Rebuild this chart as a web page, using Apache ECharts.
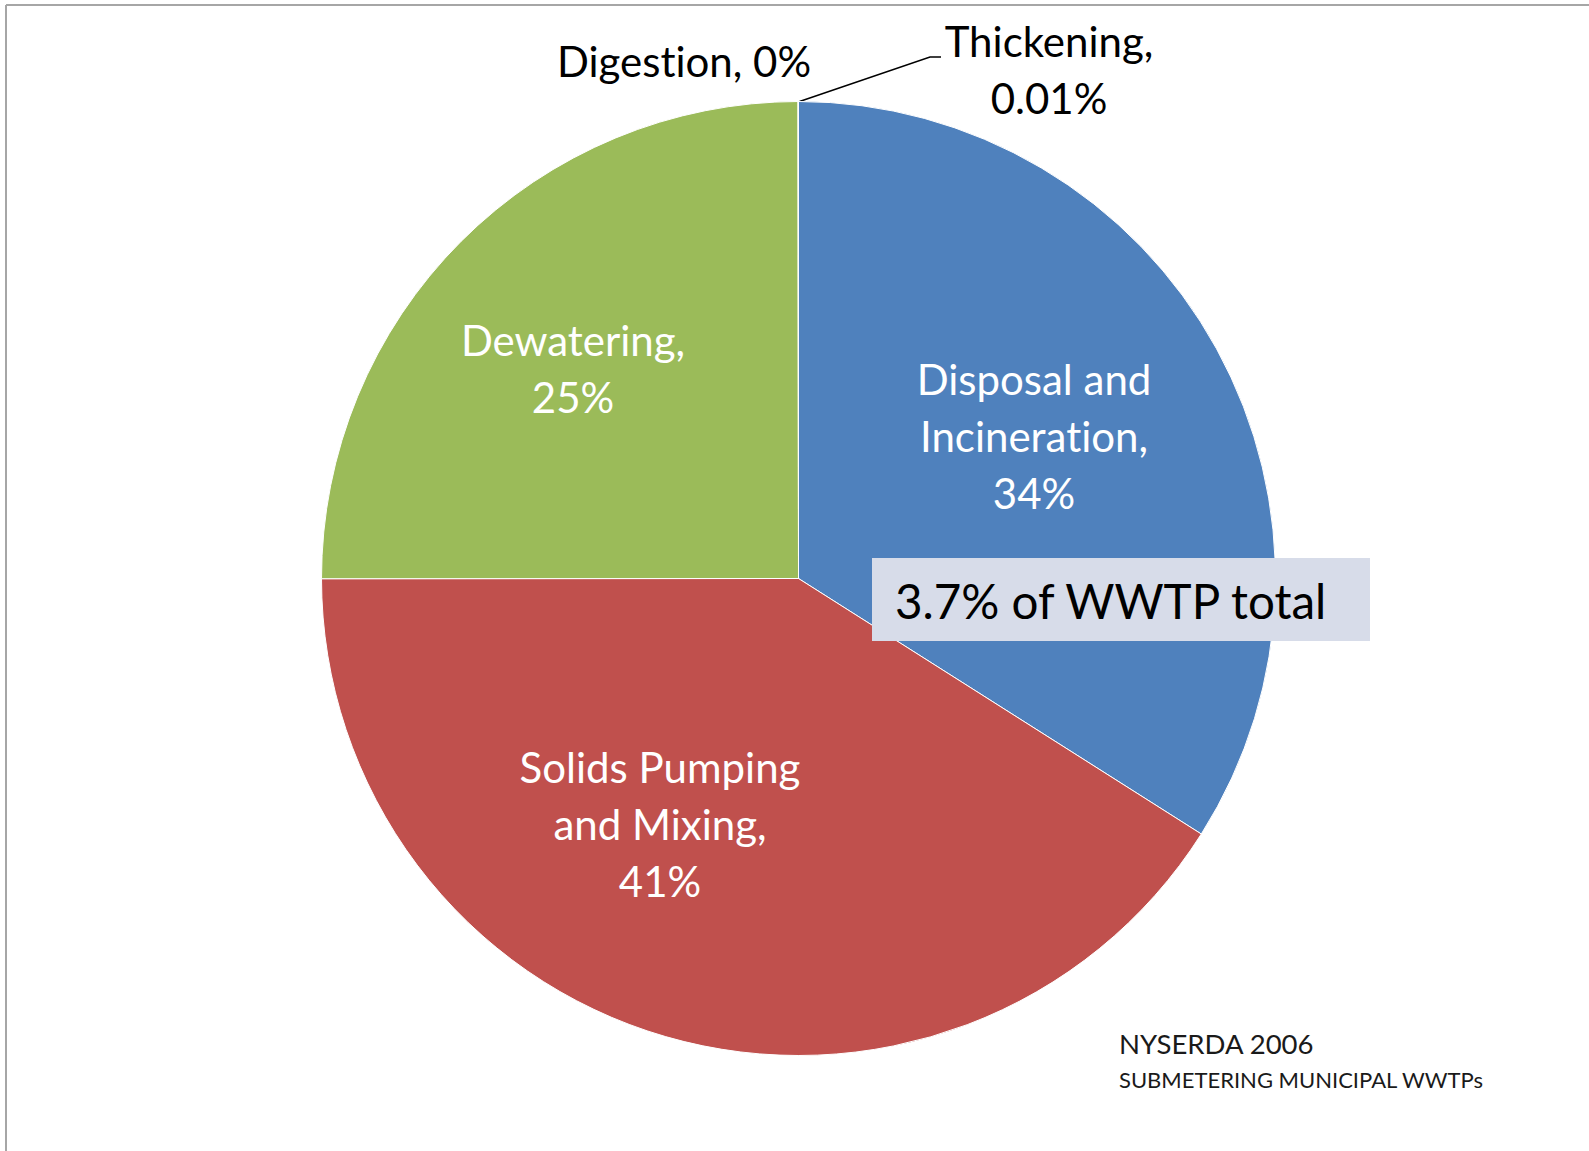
<!DOCTYPE html>
<html>
<head>
<meta charset="utf-8">
<title>Solids handling energy use</title>
<script src="https://cdn.jsdelivr.net/npm/echarts@6/dist/echarts.min.js"></script>
<style>
  html, body { margin: 0; padding: 0; background: #fff; }
  #chart { width: 1589px; height: 1151px; }
  #chart text { font-variant-ligatures: none; font-feature-settings: "liga" 0, "clig" 0; }
</style>
</head>
<body>
<div id="chart"></div>
<script>
// Share of solids-handling electricity by process (percent)
const categories = ['Disposal and Incineration', 'Solids Pumping and Mixing', 'Dewatering', 'Digestion', 'Thickening'];
const shares = [34, 41, 25, 0, 0.01];
const labelText = ['Disposal and\nIncineration,\n34%', 'Solids Pumping\nand Mixing,\n41%', 'Dewatering,\n25%', 'Digestion, 0%', 'Thickening,\n0.01%'];
const sliceColors = ['#4f81bd', '#c0504d', '#9bbb59', '#8064a2', '#4bacc6'];

const FONT = 'Lato, "Open Sans", sans-serif';
const CX = 798.5, CY = 578.5, R = 477;

// label anchors (label centre), in page pixels
const labelAnchor = [
  [1034, 436],
  [660, 824],
  [573, 368],
  [684, 61],
  [1049, 69]
];

const chart = echarts.init(document.getElementById('chart'), null, { renderer: 'svg' });

const data = categories.map((name, i) => {
  const inside = i < 3;
  return {
    name,
    value: shares[i],
    itemStyle: { color: sliceColors[i] },
    label: {
      position: inside ? 'inside' : 'outside',
      color: inside ? '#ffffff' : '#000000'
    },
    labelLine: { show: i === 4 }
  };
});

chart.setOption({
  backgroundColor: '#ffffff',
  animation: false,
  series: [{
    type: 'pie',
    center: [CX, CY],
    radius: [0, R],
    startAngle: 90,
    clockwise: true,
    minAngle: 0,
    avoidLabelOverlap: false,
    itemStyle: { borderColor: '#ffffff', borderWidth: 1 },
    label: {
      show: true,
      fontFamily: FONT,
      fontSize: 42,
      lineHeight: 57,
      align: 'center',
      formatter: p => labelText[p.dataIndex]
    },
    labelLine: {
      show: false,
      lineStyle: { color: '#000000', width: 1.5 }
    },
    labelLayout: p => {
      const [x, y] = labelAnchor[p.dataIndex];
      const out = { x, y, align: 'center', verticalAlign: 'middle' };
      if (p.dataIndex === 4) {
        out.labelLinePoints = [[CX + 1, CY - R], [930, 57], [941, 57]];
      }
      return out;
    },
    emphasis: { disabled: true },
    data
  }],
  graphic: [
    // frame lines along the top and left edge
    { type: 'line', shape: { x1: 6, y1: 5, x2: 1589, y2: 5 }, style: { stroke: '#a6a6a6', lineWidth: 2 }, silent: true },
    { type: 'line', shape: { x1: 6, y1: 5, x2: 6, y2: 1151 }, style: { stroke: '#a6a6a6', lineWidth: 2 }, silent: true },
    // callout box
    { type: 'rect', shape: { x: 872, y: 558, width: 498, height: 83 }, style: { fill: '#d7dce9' }, z: 10 },
    { type: 'text', x: 895, y: 600, z: 11,
      style: { text: '3.7% of WWTP total', font: '47.5px ' + FONT, fill: '#000000', textVerticalAlign: 'middle' } },
    // source note
    { type: 'text', x: 1119, y: 1043, z: 11,
      style: { text: 'NYSERDA 2006', font: '27.5px ' + FONT, fill: '#1a1a1a', textVerticalAlign: 'middle' } },
    { type: 'text', x: 1119, y: 1079, z: 11,
      style: { text: 'SUBMETERING MUNICIPAL WWTPs', font: '22px ' + FONT, fill: '#1a1a1a', textVerticalAlign: 'middle' } }
  ]
});
</script>
</body>
</html>
